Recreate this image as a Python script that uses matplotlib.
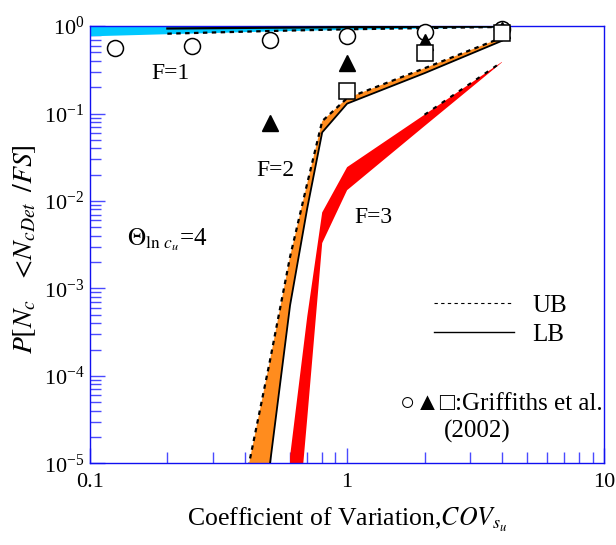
import matplotlib
matplotlib.use("Agg")
import matplotlib.pyplot as plt
from matplotlib.lines import Line2D
from matplotlib.ticker import LogLocator, NullFormatter

plt.rcParams['font.family'] = ['Liberation Serif', 'DejaVu Sans']
plt.rcParams['mathtext.fontset'] = 'stix'
plt.rcParams['axes.unicode_minus'] = False

# ---------------- data ----------------
# F = 1 band (cyan)
f1_x = [0.1, 0.2, 0.5, 1.0, 2.0, 4.0]
f1_low = [0.775, 0.82, 0.88, 0.92, 0.95, 0.98]
f1_high = [1.0, 1.0, 1.0, 1.0, 1.0, 1.0]
f1_solid = [0.775, 0.94, 0.96, 0.975, 0.985, 0.99]

# F = 2 band (orange)
f2_x = [0.4, 0.5, 0.6, 0.7, 0.8, 1.0, 2.0, 4.0]
f2_ub = [5.7e-6, 1.44e-4, 2.3e-3, 0.016, 0.082, 0.15, 0.33, 0.74]
f2_lb = [5e-8, 9.3e-6, 6.4e-4, 0.0083, 0.061, 0.13, 0.29, 0.68]

# F = 3 band (red)
f3_x = [0.6, 0.7, 0.8, 1.0, 2.0, 4.0]
f3_ub = [1.2e-5, 4.8e-4, 0.0074, 0.0244, 0.097, 0.39]
f3_lb = [1.9e-7, 3.3e-5, 0.0033, 0.0133, 0.072, 0.385]

# Griffiths et al. (2002)
g_circle_x = [0.125, 0.25, 0.5, 1.0, 2.0, 4.0]
g_circle_y = [0.56, 0.59, 0.69, 0.78, 0.85, 0.92]
g_tri_x = [0.5, 1.0, 2.0, 4.0]
g_tri_y = [0.078, 0.38, 0.66, 0.90]
g_sq_x = [1.0, 2.0, 4.0]
g_sq_y = [0.18, 0.49, 0.83]

x_ticks = [0.1, 1, 10]
x_ticklabels = ['0.1', '1', '10']
y_ticks = [1e-5, 1e-4, 1e-3, 1e-2, 1e-1, 1e0]
y_ticklabels = [r'$\mathdefault{10^{-5}}$', r'$\mathdefault{10^{-4}}$', r'$\mathdefault{10^{-3}}$',
                r'$\mathdefault{10^{-2}}$', r'$\mathdefault{10^{-1}}$', r'$\mathdefault{10^{0}}$']

# ---------------- figure ----------------
fig = plt.figure(figsize=(6.16, 5.45), dpi=100)
ax = fig.add_axes([0.146, 0.150, 0.835, 0.802])
ax.set_xscale('log')
ax.set_yscale('log')
ax.set_xlim(0.1, 10)
ax.set_ylim(1e-5, 1)

cyan = '#00c8ff'
orange = '#ff8c1e'
red = '#ff0000'

# F=1
ax.fill_between(f1_x, f1_low, f1_high, color=cyan, lw=0, zorder=2)
ax.plot(f1_x[1:], f1_low[1:], color='black', lw=1.6, ls=(0, (2, 2)), zorder=3)
ax.plot(f1_x[1:], f1_solid[1:], color='black', lw=1.6, zorder=3)

# F=2
ax.fill_between(f2_x, f2_lb, f2_ub, color=orange, lw=0, zorder=2)
ax.plot(f2_x, f2_ub, color='black', lw=1.6, ls=(0, (2, 2)), zorder=3)
ax.plot(f2_x, f2_lb, color='black', lw=1.3, zorder=3)

# F=3
ax.fill_between(f3_x, f3_lb, f3_ub, color=red, lw=0, zorder=2)
ax.plot(f3_x[4:], f3_ub[4:], color='black', lw=1.5, ls=(0, (2, 3)), zorder=3)

# Griffiths markers
ax.plot(g_circle_x, g_circle_y, ls='none', marker='o', ms=11.5, mfc='white', mec='black', mew=1.1, zorder=4, clip_on=False)
ax.plot(g_tri_x, g_tri_y, ls='none', marker='^', ms=11.3, mfc='black', mec='black', mew=1.0, zorder=5, clip_on=False)
ax.plot(g_sq_x, g_sq_y, ls='none', marker='s', ms=11.0, mfc='white', mec='black', mew=1.1, zorder=6, clip_on=False)

# axes styling
spine_col = '#1010f0'
for s in ax.spines.values():
    s.set_color(spine_col)
    s.set_linewidth(1.0)
ax.set_xticks(x_ticks)
ax.set_xticklabels(x_ticklabels)
ax.set_yticks(y_ticks)
ax.set_yticklabels(y_ticklabels)
ax.xaxis.set_minor_locator(LogLocator(base=10, subs=range(2, 10)))
ax.yaxis.set_minor_locator(LogLocator(base=10, subs=range(2, 10)))
ax.xaxis.set_minor_formatter(NullFormatter())
ax.yaxis.set_minor_formatter(NullFormatter())
ax.tick_params(which='major', direction='in', length=11, width=1.0, color='#4a4aff',
               labelsize=16, top=False, right=False)
ax.tick_params(which='minor', direction='in', length=8, width=1.0, color='#4a4aff',
               top=False, right=False)
ax.tick_params(axis='x', which='major', pad=7)
ax.tick_params(axis='y', which='major', pad=4)

ax.set_xlabel(r'Coefficient of Variation,$COV_{s_u}$', fontsize=18.5, labelpad=10)
ax.set_ylabel(r'$P[N_{c}\;\;\;<\!N_{cDet}\;\;/FS]$', fontsize=20)
ax.yaxis.set_label_coords(-0.10, 0.49)

# annotations
ax.text(0.156, 0.892, 'F=1', transform=ax.transAxes, fontsize=17, ha='center', va='center')
ax.text(0.361, 0.670, 'F=2', transform=ax.transAxes, fontsize=17, ha='center', va='center')
ax.text(0.551, 0.563, 'F=3', transform=ax.transAxes, fontsize=17, ha='center', va='center')
ax.text(0.072, 0.512, r'$\Theta_{\mathrm{ln}\ c_u}$=4', transform=ax.transAxes, fontsize=18,
        ha='left', va='center')

handles = [Line2D([], [], color='black', lw=0.8, ls=(0, (3, 3))),
           Line2D([], [], color='black', lw=1.0)]
ax.legend(handles, ['UB', 'LB'], loc='upper left', bbox_to_anchor=(0.668, 0.386),
          frameon=False, fontsize=18, handlelength=3.2, handletextpad=0.75,
          labelspacing=0.25, borderpad=0, borderaxespad=0)

ax.text(0.996, 0.135, '\u25CB\u25B2\u25A1:Griffiths et al.', transform=ax.transAxes,
        fontsize=18, ha='right', va='center', family=['Liberation Serif', 'DejaVu Sans'])
ax.text(0.689, 0.072, '(2002)', transform=ax.transAxes, fontsize=18, ha='left', va='center')

fig.savefig('out.png', dpi=100)
